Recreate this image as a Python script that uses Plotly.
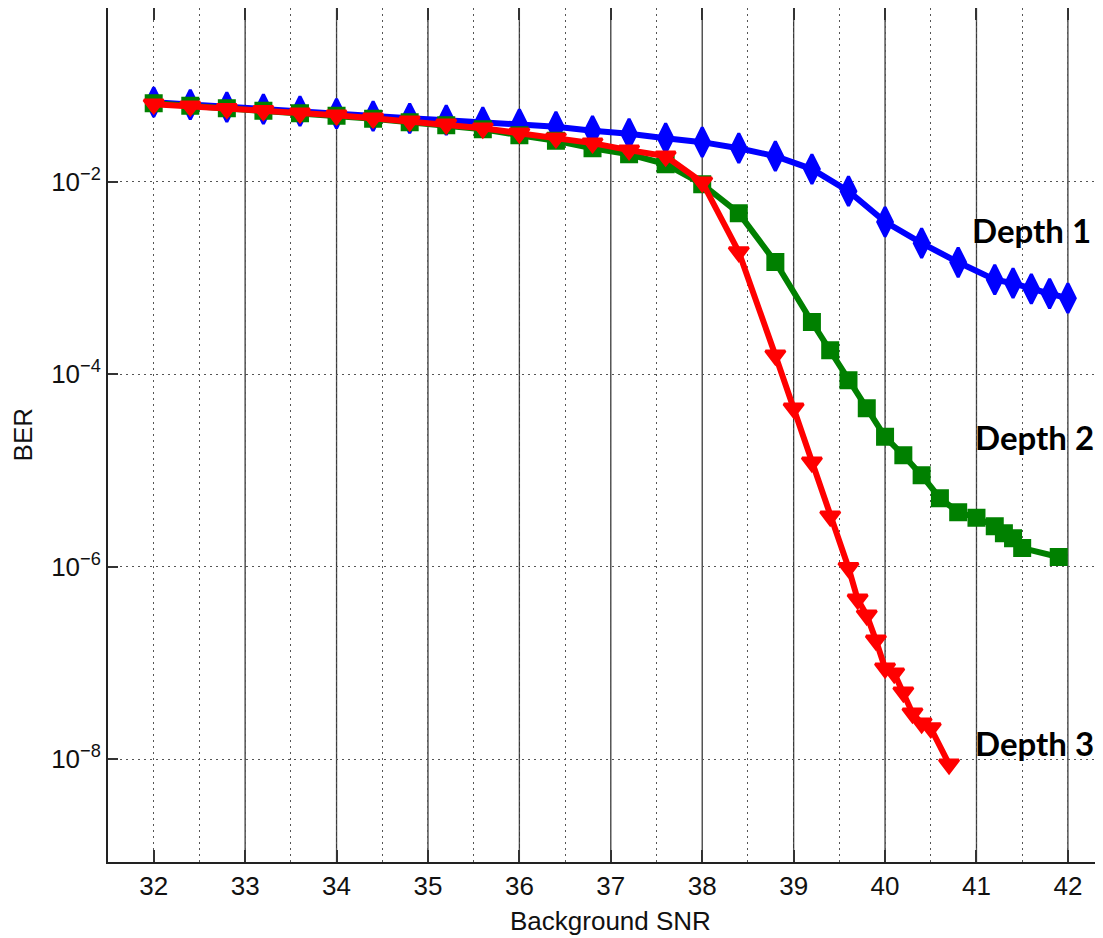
import plotly.graph_objects as go

# ---- data ----
snr_depth1 = [32.0, 32.4, 32.8, 33.2, 33.6, 34.0, 34.4, 34.8, 35.2, 35.6, 36.0, 36.4, 36.8, 37.2,
              37.6, 38.0, 38.4, 38.8, 39.2, 39.6, 40.0, 40.4, 40.8, 41.2, 41.4, 41.6, 41.8, 42.0]
ber_depth1 = [0.0674, 0.0635, 0.0598, 0.0570, 0.0543, 0.0512, 0.0482, 0.0459, 0.0438, 0.0418,
              0.0398, 0.0375, 0.0340, 0.0317, 0.0285, 0.0259, 0.0224, 0.0185, 0.0136, 0.0080,
              0.00384, 0.00231, 0.00146, 0.000962, 0.000885, 0.000772, 0.000688, 0.000618]

snr_depth2 = [32.0, 32.4, 32.8, 33.2, 33.6, 34.0, 34.4, 34.8, 35.2, 35.6, 36.0, 36.4, 36.8, 37.2,
              37.6, 38.0, 38.4, 38.8, 39.2, 39.4, 39.6, 39.8, 40.0, 40.2, 40.4, 40.6, 40.8, 41.0,
              41.2, 41.3, 41.4, 41.5, 41.9]
ber_depth2 = [0.0658, 0.0620, 0.0583, 0.0550, 0.0518, 0.0488, 0.0454, 0.0418, 0.0389, 0.0353,
              0.0306, 0.0268, 0.0224, 0.0194, 0.0153, 0.00946, 0.00473, 0.00147, 3.50e-4,
              1.78e-4, 8.68e-5, 4.44e-5, 2.24e-5, 1.44e-5, 8.94e-6, 5.15e-6, 3.69e-6, 3.23e-6,
              2.64e-6, 2.23e-6, 1.98e-6, 1.56e-6, 1.26e-6]

snr_depth3 = [32.0, 32.4, 32.8, 33.2, 33.6, 34.0, 34.4, 34.8, 35.2, 35.6, 36.0, 36.4, 36.8, 37.2,
              37.6, 38.0, 38.4, 38.8, 39.0, 39.2, 39.4, 39.6, 39.7, 39.8, 39.9, 40.0, 40.1, 40.2,
              40.3, 40.4, 40.5, 40.7]
ber_depth3 = [0.0642, 0.0612, 0.0577, 0.0550, 0.0518, 0.0494, 0.0459, 0.0428, 0.0398, 0.0362,
              0.0321, 0.0285, 0.0253, 0.0214, 0.0185, 0.00993, 0.00187, 1.58e-4, 4.44e-5,
              1.22e-5, 3.35e-6, 9.76e-7, 4.59e-7, 3.13e-7, 1.72e-7, 8.81e-8, 7.81e-8, 4.96e-8,
              3.00e-8, 2.36e-8, 2.10e-8, 8.85e-9]

x_ticks = [32, 33, 34, 35, 36, 37, 38, 39, 40, 41, 42]
solid_lines = [33, 34, 35, 36, 37, 38, 39, 40, 41, 42]
y_ticks = [1e-2, 1e-4, 1e-6, 1e-8]
y_ticktext = ["10<sup>\u22122</sup>", "10<sup>\u22124</sup>", "10<sup>\u22126</sup>", "10<sup>\u22128</sup>"]

series_labels = ["Depth 1", "Depth 2", "Depth 3"]
label_pos = [(41.60, -2.50), (41.64, -4.65), (41.64, -7.83)]

# ---- figure ----
fig = go.Figure()

fig.add_trace(go.Scatter(
    x=snr_depth1, y=ber_depth1, mode="lines+markers", name="Depth 1",
    line=dict(color="#0000FF", width=6),
    marker=dict(symbol="diamond-tall", size=21, color="#0000FF",
                line=dict(color="#0000FF", width=3)),
))
fig.add_trace(go.Scatter(
    x=snr_depth2, y=ber_depth2, mode="lines+markers", name="Depth 2",
    line=dict(color="#008000", width=6),
    marker=dict(symbol="square", size=14, color="#008000",
                line=dict(color="#008000", width=4)),
))
fig.add_trace(go.Scatter(
    x=snr_depth3, y=ber_depth3, mode="lines+markers", name="Depth 3",
    line=dict(color="#FF0000", width=6),
    marker=dict(symbol="triangle-down", size=17, color="#FF0000",
                line=dict(color="#FF0000", width=3)),
))

for v in solid_lines:
    fig.add_vline(x=v, layer="below", line=dict(color="#3a3a3a", width=1.3))

tick_font = dict(family="Liberation Sans, Arial", size=26, color="#111")

fig.update_xaxes(
    range=[31.5, 42.384], automargin=False,
    tickvals=x_ticks, ticktext=[str(v) for v in x_ticks],
    ticks="inside", ticklen=12, tickwidth=1.5, tickcolor="#333",
    showline=True, linecolor="#222", linewidth=2, mirror="ticks",
    showgrid=True, gridcolor="#555", gridwidth=1, griddash="2px,4px",
    minor=dict(tick0=32.5, dtick=1, showgrid=True, gridcolor="#555",
               gridwidth=1, griddash="2px,4px", ticks=""),
    tickfont=tick_font, zeroline=False,
)
fig.update_yaxes(
    type="log", range=[-9.07, -0.192], automargin=False,
    tickvals=y_ticks, ticktext=y_ticktext,
    ticks="inside", ticklen=10, tickwidth=1.5, tickcolor="#333",
    showline=True, linecolor="#222", linewidth=2, mirror=False,
    showgrid=True, gridcolor="#555", gridwidth=1, griddash="2px,4px",
    tickfont=tick_font, zeroline=False,
)

for text, (lx, ly) in zip(series_labels, label_pos):
    fig.add_annotation(x=lx, y=ly, xref="x", yref="y", text="<b>" + text + "</b>",
                       showarrow=False, xanchor="center", yanchor="middle",
                       font=dict(family="Lato, Open Sans, Arial", size=33, color="#000"))

fig.add_annotation(x=(610 - 108) / 995, y=-0.069, xref="paper", yref="paper",
                   xanchor="center", yanchor="middle", text="Background SNR", showarrow=False,
                   font=dict(family="Liberation Sans, Arial", size=26, color="#111"))
fig.add_annotation(x=-0.085, y=0.5, xref="paper", yref="paper",
                   xanchor="center", yanchor="middle",
                   text="BER", textangle=-90, showarrow=False,
                   font=dict(family="Liberation Sans, Arial", size=26, color="#111"))

fig.update_layout(
    width=1095, height=930,
    margin=dict(l=100, r=0, t=0, b=76, autoexpand=False),
    paper_bgcolor="white", plot_bgcolor="white",
    showlegend=False,
)

fig.write_html("out.html")
